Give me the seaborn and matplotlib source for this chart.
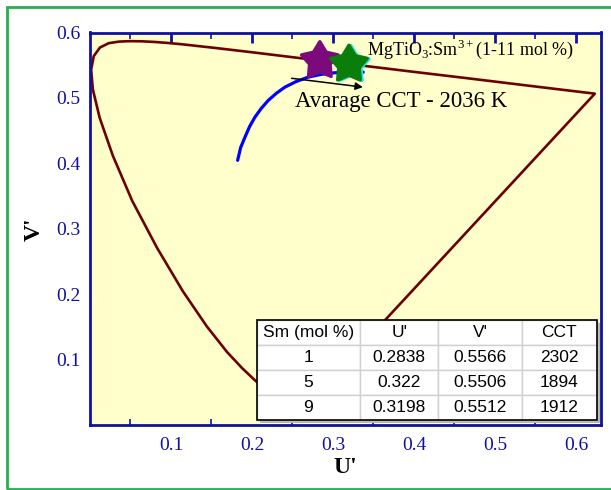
import matplotlib
matplotlib.use("Agg")
import matplotlib.pyplot as plt
import matplotlib.patches as mpatches
from matplotlib.path import Path
import seaborn as sns
import pandas as pd

# ---- data ----
# CIE 1976 spectral locus (u', v'), 380 nm -> 700 nm, closed by purple line back to 380 nm
locus_u = [0.2568, 0.2522, 0.2347, 0.2160, 0.2033, 0.1877, 0.1690, 0.1441, 0.1147,
           0.0828, 0.0521, 0.0282, 0.0119, 0.0035, 0.0014, 0.0046, 0.0123, 0.0231,
           0.0360, 0.0501, 0.0643, 0.0792, 0.0953, 0.1127, 0.1531, 0.2026, 0.2623,
           0.3315, 0.4035, 0.4692, 0.5203, 0.5830, 0.6234, 0.2568]
locus_v = [0.0166, 0.0169, 0.0350, 0.0549, 0.0688, 0.0871, 0.1119, 0.1510, 0.2044,
           0.2708, 0.3427, 0.4117, 0.4698, 0.5131, 0.5432, 0.5638, 0.5770, 0.5837,
           0.5861, 0.5868, 0.5865, 0.5856, 0.5841, 0.5821, 0.5766, 0.5694, 0.5604,
           0.5501, 0.5393, 0.5296, 0.5219, 0.5125, 0.5065, 0.0166]

# Planckian locus segment (blue)
planck_u = [0.1823, 0.1860, 0.1914, 0.1970, 0.2037, 0.2115, 0.2201, 0.2300, 0.2407,
            0.2545, 0.2695, 0.2855, 0.3025, 0.3200, 0.3374]
planck_v = [0.4046, 0.4240, 0.4402, 0.4560, 0.4707, 0.4840, 0.4962, 0.5070, 0.5165,
            0.5250, 0.5318, 0.5360, 0.5385, 0.5393, 0.5394]

# samples
sm_mol = ["1", "5", "9"]
u_prime = [0.2838, 0.322, 0.3198]
v_prime = [0.5566, 0.5506, 0.5512]
cct = [2302, 1894, 1912]
star_colors = ["#7d0a7d", "#19e6e6", "#0a7d0a"]

x_ticks = [0.1, 0.2, 0.3, 0.4, 0.5, 0.6]
y_ticks = [0.1, 0.2, 0.3, 0.4, 0.5, 0.6]

# ---- style ----
sns.set_theme(style="white")
plt.rcParams["font.family"] = ["Liberation Serif", "DejaVu Serif"]
plt.rcParams["mathtext.fontset"] = "custom"
plt.rcParams["mathtext.rm"] = "Liberation Serif"

NAVY = "#1010a0"

fig = plt.figure(figsize=(6.11, 4.90), dpi=100)
ax = fig.add_axes([90 / 611, 1 - 425 / 490, 511 / 611, 392.5 / 490])
ax.set_facecolor("#ffffcc")

# green frame around figure
fig.patches.append(mpatches.Rectangle((7.5 / 611, 1.0 / 490), 1.2, 481.5 / 490,
                                      transform=fig.transFigure, fill=False,
                                      edgecolor="#22b14c", linewidth=2.0, zorder=0))

locus_df = pd.DataFrame({"u": locus_u, "v": locus_v})
sns.lineplot(data=locus_df, x="u", y="v", sort=False, estimator=None,
             color="#6b0000", linewidth=1.9, ax=ax, zorder=2)
for ln in ax.lines:
    ln.set_solid_joinstyle("round")

planck_df = pd.DataFrame({"u": planck_u, "v": planck_v})
sns.lineplot(data=planck_df, x="u", y="v", sort=False, estimator=None,
             color="#0000ff", linewidth=2.3, ax=ax, zorder=3)

fat_star = Path.unit_regular_star(5, innerCircle=0.56)
samp_df = pd.DataFrame({"sm": sm_mol, "u": u_prime, "v": v_prime})
sns.scatterplot(data=samp_df, x="u", y="v", hue="sm", palette=star_colors,
                marker=fat_star, s=760, linewidth=2.5, legend=False, ax=ax, zorder=4)
coll = ax.collections[-1]
coll.set_edgecolors(star_colors)
try:
    coll.set_joinstyle("round")
except Exception:
    pass

ax.annotate("", xy=(0.337, 0.5165), xytext=(0.249, 0.530),
            arrowprops=dict(arrowstyle="-|>", color="black", lw=1.1,
                            mutation_scale=11, shrinkA=0, shrinkB=0), zorder=5)

ax.text(0.3416, 0.565, r"MgTiO$_\mathregular{3}$:Sm$^\mathregular{3+}$(1-11 mol %)",
        fontsize=13, color="black", va="baseline", ha="left", zorder=6)
ax.text(0.2531, 0.486, "Avarage CCT - 2036 K", fontsize=16.5, color="black",
        va="baseline", ha="left", zorder=6)

# axes formatting
ax.set_xlim(0, 0.631)
ax.set_ylim(0, 0.6)
ax.set_xticks(x_ticks)
ax.set_yticks(y_ticks)
ax.set_xticklabels([f"{t:.1f}" for t in x_ticks])
ax.set_yticklabels([f"{t:.1f}" for t in y_ticks])
ax.set_xticks([0.05, 0.15, 0.25, 0.35, 0.45, 0.55], minor=True)
ax.tick_params(axis="both", which="major", direction="in", length=7, width=2,
               color=NAVY, labelcolor=NAVY, labelsize=14)
ax.tick_params(axis="x", which="major", pad=9, top=True)
ax.tick_params(axis="y", which="major", pad=7)
ax.tick_params(axis="x", which="minor", direction="in", length=4, width=1.2,
               color=NAVY, bottom=True, top=True)
for side in ["left", "right", "top", "bottom"]:
    ax.spines[side].set_visible(True)
    ax.spines[side].set_color(NAVY)
    ax.spines[side].set_linewidth(2.0)

ax.set_xlabel("U'", fontsize=17, fontweight="bold", color="black", labelpad=2)
ax.set_ylabel("V'", fontsize=17, fontweight="bold", color="black", labelpad=8)

# table
x0 = (256.7 - 90) / 511
x1 = (596.7 - 90) / 511
y0 = (425 - 420) / 392.5
y1 = (425 - 320) / 392.5
col_w = [103.3, 78.3, 83.3, 75.0]
tot = sum(col_w)
col_w = [(c / tot) * (x1 - x0) for c in col_w]

# shadow
ax.add_patch(mpatches.Rectangle((x0 + 0.006, y0 - 0.008), x1 - x0, y1 - y0,
                                transform=ax.transAxes, facecolor="#b8b8b8",
                                edgecolor="none", zorder=7))
cell_text = [[sm_mol[i], f"{u_prime[i]}", f"{v_prime[i]}", f"{cct[i]}"] for i in range(3)]
tbl = ax.table(cellText=cell_text, colLabels=["Sm (mol %)", "U'", "V'", "CCT"],
               colWidths=col_w, cellLoc="center",
               bbox=[x0, y0, x1 - x0, y1 - y0], zorder=8)
tbl.auto_set_font_size(False)
for (r, c), cell in tbl.get_celld().items():
    cell.set_facecolor("white")
    cell.set_edgecolor("#d0d0d0")
    cell.set_linewidth(1.0)
    cell.get_text().set_fontsize(12.5)
    cell.get_text().set_fontfamily(["Liberation Sans", "DejaVu Sans"])
    cell.get_text().set_color("black")
ax.add_patch(mpatches.Rectangle((x0, y0), x1 - x0, y1 - y0, transform=ax.transAxes,
                                fill=False, edgecolor="black", linewidth=1.2, zorder=9))

fig.savefig("out.png", dpi=100)
